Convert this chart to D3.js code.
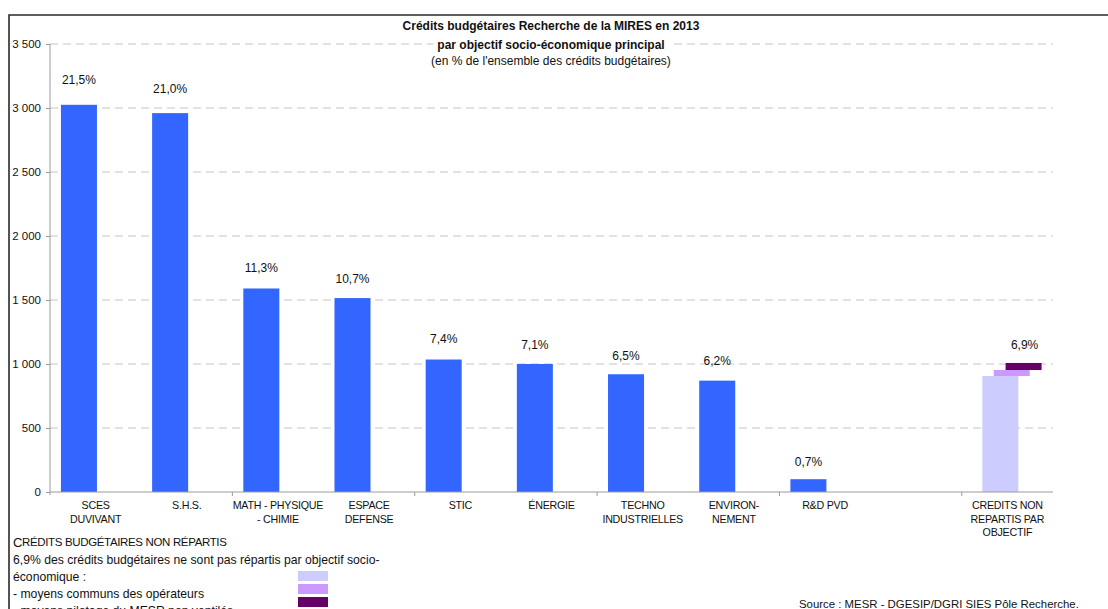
<!DOCTYPE html>
<html lang="fr">
<head>
<meta charset="utf-8">
<title>Crédits budgétaires Recherche de la MIRES en 2013</title>
<script src="https://cdn.jsdelivr.net/npm/d3@7"></script>
<style>
  html, body { margin: 0; padding: 0; background: #fff; }
  svg { display: block; font-family: "Liberation Sans", Arial, Helvetica, sans-serif; }
</style>
</head>
<body>
<svg id="chart" width="1108" height="609"></svg>
<script>
// ---- Data -------------------------------------------------------------
// Socio-economic objectives (multi-line axis labels); one empty slot before the last group
const categories = [
  ["SCES", "DUVIVANT"],
  ["S.H.S."],
  ["MATH - PHYSIQUE", "- CHIMIE"],
  ["ESPACE", "DEFENSE"],
  ["STIC"],
  ["ÉNERGIE"],
  ["TECHNO", "INDUSTRIELLES"],
  ["ENVIRON-", "NEMENT"],
  ["R&D PVD"],
  [],
  ["CREDITS NON", "REPARTIS PAR", "OBJECTIF"]
];
const categoryKeys = ["sces", "shs", "math", "espace", "stic", "energie", "techno", "environ", "rdpvd", "blank", "nonrep"];

// Budget credits (M€) per objective
const objectiveKeys = ["sces", "shs", "math", "espace", "stic", "energie", "techno", "environ", "rdpvd"];
const objectiveCredits = [3025, 2960, 1590, 1515, 1035, 1000, 920, 870, 100];
const objectiveShares = [21.5, 21.0, 11.3, 10.7, 7.4, 7.1, 6.5, 6.2, 0.7];

// Credits not allocated by objective, split in three parts
const unallocatedKeys = ["nonRepartis", "moyensCommuns", "pilotage"];
const unallocatedCredits = [906, 47, 55];
const unallocatedShare = 6.9;

// Axis ticks
const yTicks = [0, 500, 1000, 1500, 2000, 2500, 3000, 3500];

// Texts
const titleLines = [
  "Crédits budgétaires Recherche de la MIRES en 2013",
  "par objectif socio-économique principal",
  "(en % de l'ensemble des crédits budgétaires)"
];
const noteHeading = ["C", "RÉDITS BUDGÉTAIRES NON RÉPARTIS"];
const noteLines = [
  "6,9% des crédits budgétaires ne sont pas répartis par objectif socio-",
  "économique :",
  "- moyens communs des opérateurs",
  "- moyens pilotage du MESR non ventilés"
];
const sourceText = "Source : MESR - DGESIP/DGRI SIES Pôle Recherche.";

// ---- Layout ---------------------------------------------------------------
const colors = {
  bar: "#3366FF",
  nonRepartis: "#CCCCFF",
  moyensCommuns: "#CC99FF",
  pilotage: "#660066",
  axis: "#9a9a9a",
  grid: "#c4c4c4",
  text: "#111"
};
const plot = { left: 50, right: 1053, top: 44, bottom: 492 };

const svg = d3.select("#chart");

// frame
svg.append("path")
  .attr("d", "M9,609 L9,15 L1108,15")
  .attr("fill", "none")
  .attr("stroke", "#2a2a2a")
  .attr("stroke-width", 1.6);

const x = d3.scaleBand().domain(categoryKeys).range([plot.left, plot.right]).padding(0);
const y = d3.scaleLinear().domain([0, 3500]).range([plot.bottom, plot.top]);
// secondary scale carrying the percentage labels
const yPct = d3.scaleLinear().domain([0, 24.4]).range([plot.bottom, plot.top]);

const bw = x.bandwidth();
const barW = bw * 0.395;

const fmt = d3.formatLocale({ decimal: ",", thousands: " ", grouping: [3], currency: ["", " €"] });
const fmtThousands = fmt.format(",d");
const fmtPct = v => fmt.format(".1f")(v) + "%";

// gridlines
svg.append("g")
  .selectAll("line")
  .data(yTicks.filter(d => d > 0))
  .join("line")
  .attr("x1", plot.left).attr("x2", plot.right)
  .attr("y1", d => y(d)).attr("y2", d => y(d))
  .attr("stroke", colors.grid)
  .attr("stroke-width", 1)
  .attr("stroke-dasharray", "8,5");

// objective bars
const objectives = objectiveKeys.map((k, i) => ({ key: k, value: objectiveCredits[i], share: objectiveShares[i] }));
const barOffset = bw * 0.12;

svg.append("g")
  .selectAll("rect")
  .data(objectives)
  .join("rect")
  .attr("x", d => x(d.key) + barOffset)
  .attr("width", barW)
  .attr("y", d => y(d.value))
  .attr("height", d => y(0) - y(d.value))
  .attr("fill", colors.bar);

// unallocated credits: stacked segments, each shifted a little to the right
const stackRow = Object.fromEntries(unallocatedKeys.map((k, i) => [k, unallocatedCredits[i]]));
const stacked = d3.stack().keys(unallocatedKeys)([stackRow]);
const segOffsets = [0.225, 0.35, 0.48].map(f => f * bw);

svg.append("g")
  .selectAll("rect")
  .data(stacked)
  .join("rect")
  .attr("x", (s, i) => x("nonrep") + segOffsets[i])
  .attr("width", barW)
  .attr("y", s => y(s[0][1]))
  .attr("height", s => y(s[0][0]) - y(s[0][1]))
  .attr("fill", s => colors[s.key]);

// percentage labels
const labelLift = 17;
svg.append("g")
  .attr("font-size", "12px")
  .attr("fill", colors.text)
  .attr("text-anchor", "middle")
  .selectAll("text")
  .data(objectives)
  .join("text")
  .attr("x", d => x(d.key) + barOffset + barW / 2)
  .attr("y", d => yPct(d.share) - labelLift)
  .attr("dominant-baseline", "central")
  .text(d => fmtPct(d.share));

svg.append("text")
  .attr("font-size", "12px")
  .attr("fill", colors.text)
  .attr("text-anchor", "middle")
  .attr("dominant-baseline", "central")
  .attr("x", x("nonrep") + segOffsets[2] + barW / 2 + 1)
  .attr("y", yPct(unallocatedShare) - labelLift - 3)
  .text(fmtPct(unallocatedShare));

// y axis
const yAxis = svg.append("g")
  .attr("transform", `translate(${plot.left},0)`)
  .call(d3.axisLeft(y).tickValues(yTicks).tickSize(4).tickPadding(5).tickFormat(fmtThousands));
yAxis.select(".domain").attr("stroke", colors.axis).attr("d", `M0,${plot.top}V${plot.bottom + 3}`);
yAxis.selectAll(".tick line").attr("stroke", colors.axis);
yAxis.selectAll(".tick text")
  .attr("font-size", "11.5px")
  .attr("fill", colors.text)
  .attr("font-family", "Liberation Sans, Arial, sans-serif");

// x axis: baseline plus tick marks every second category boundary
const xAxis = svg.append("g");
xAxis.append("line")
  .attr("x1", plot.left).attr("x2", plot.right)
  .attr("y1", plot.bottom).attr("y2", plot.bottom)
  .attr("stroke", colors.axis);
xAxis.selectAll("line.tick")
  .data(categoryKeys.filter((k, i) => i % 2 === 0 && i > 0))
  .join("line")
  .attr("class", "tick")
  .attr("x1", k => x(k)).attr("x2", k => x(k))
  .attr("y1", plot.bottom).attr("y2", plot.bottom + 4)
  .attr("stroke", colors.axis);

// category labels
const catText = svg.append("g")
  .attr("font-size", "10.7px")
  .attr("letter-spacing", "-0.25px")
  .attr("fill", colors.text)
  .attr("text-anchor", "middle")
  .selectAll("text")
  .data(categoryKeys.map((k, i) => ({ key: k, lines: categories[i] })))
  .join("text")
  .attr("x", d => x(d.key) + bw / 2)
  .attr("y", 505)
  .attr("dominant-baseline", "central");
catText.selectAll("tspan")
  .data(d => d.lines.map(l => ({ l, x: x(d.key) + bw / 2 })))
  .join("tspan")
  .attr("x", t => t.x)
  .attr("dy", (t, i) => i === 0 ? 0 : 13.6)
  .text(t => t.l);

// title
const title = svg.append("g").attr("text-anchor", "middle").attr("fill", colors.text).attr("font-size", "12px");
const titleY = [25.5, 44.5, 61];
titleLines.forEach((line, i) => {
  const t = title.append("text")
    .attr("x", 551)
    .attr("y", titleY[i])
    .attr("dominant-baseline", "central")
    .attr("font-weight", i < 2 ? "bold" : "normal")
    .text(line);
  const bb = t.node().getBBox();
  title.insert("rect", "text")
    .attr("x", bb.x - 4).attr("y", bb.y)
    .attr("width", bb.width + 8).attr("height", bb.height)
    .attr("fill", "#fff");
});

// note on unallocated credits with colour keys
const note = svg.append("g").attr("fill", colors.text).attr("font-size", "12px");
const heading = note.append("text")
  .attr("x", 13).attr("y", 542)
  .attr("dominant-baseline", "central")
  .attr("letter-spacing", "-0.35px");
heading.append("tspan").attr("font-size", "13px").text(noteHeading[0]);
heading.append("tspan").attr("font-size", "11.5px").text(noteHeading[1]);

noteLines.forEach((line, i) => {
  note.append("text")
    .attr("x", 13).attr("y", 560 + i * 17)
    .attr("dominant-baseline", "central")
    .attr("font-size", "12.2px")
    .text(line);
});
const keyY = [571, 584, 597];
note.selectAll("rect")
  .data(unallocatedKeys)
  .join("rect")
  .attr("x", 298).attr("width", 30)
  .attr("y", (k, i) => keyY[i]).attr("height", 10)
  .attr("fill", k => colors[k]);

// source
svg.append("text")
  .attr("x", 799).attr("y", 604)
  .attr("dominant-baseline", "central")
  .attr("font-size", "11.4px")
  .attr("fill", colors.text)
  .text(sourceText);
</script>
</body>
</html>
